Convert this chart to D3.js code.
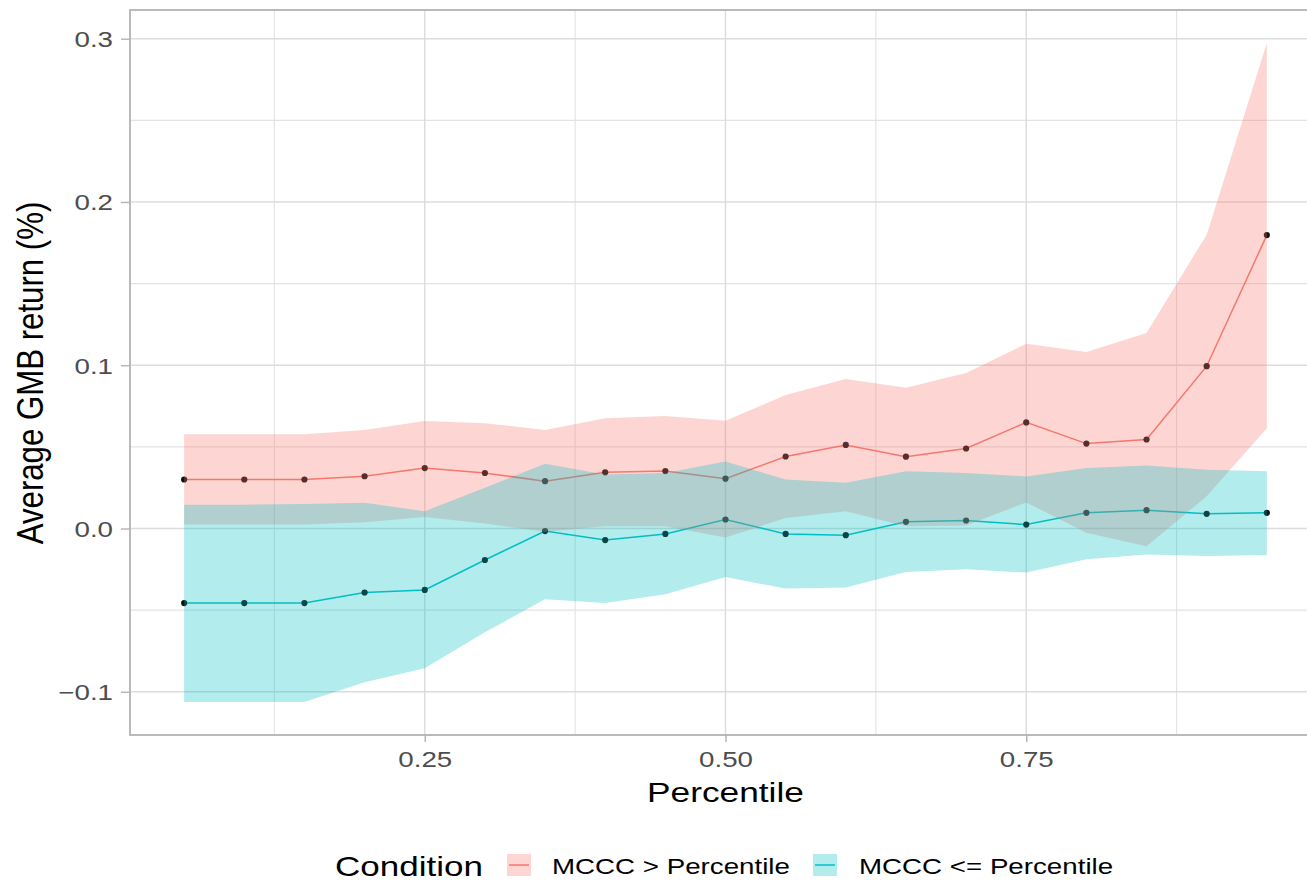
<!DOCTYPE html>
<html>
<head>
<meta charset="utf-8">
<script src="https://cdn.jsdelivr.net/npm/d3@7"></script>
<style>
  html, body { margin: 0; padding: 0; background: #ffffff; }
  svg { display: block; font-family: "Liberation Sans", Arial, Helvetica, sans-serif; }
</style>
</head>
<body>
<div id="chart"></div>
<script>
// ---- data ----
const percentiles = [0.05, 0.10, 0.15, 0.20, 0.25, 0.30, 0.35, 0.40, 0.45, 0.50,
                     0.55, 0.60, 0.65, 0.70, 0.75, 0.80, 0.85, 0.90, 0.95];

const redMean  = [0.0300, 0.0300, 0.0300, 0.0320, 0.0370, 0.0340, 0.0290, 0.0344, 0.0352, 0.0305,
                  0.0441, 0.0512, 0.0440, 0.0490, 0.0650, 0.0520, 0.0545, 0.0994, 0.1797];
const redLower = [0.0024, 0.0024, 0.0024, 0.0039, 0.0071, 0.0030, -0.0020, 0.0014, 0.0014, -0.0055,
                  0.0065, 0.0106, 0.0014, 0.0018, 0.0160, -0.0026, -0.0108, 0.0197, 0.0614];
const redUpper = [0.0577, 0.0577, 0.0577, 0.0604, 0.0659, 0.0644, 0.0604, 0.0675, 0.0689, 0.0660,
                  0.0817, 0.0915, 0.0862, 0.0953, 0.1132, 0.1081, 0.1197, 0.1800, 0.2974];

const tealMean  = [-0.0457, -0.0457, -0.0457, -0.0392, -0.0376, -0.0193, -0.0016, -0.0071, -0.0033, 0.0055,
                   -0.0033, -0.0041, 0.0041, 0.0049, 0.0024, 0.0096, 0.0112, 0.0090, 0.0096];
const tealLower = [-0.1063, -0.1063, -0.1063, -0.0941, -0.0856, -0.0636, -0.0433, -0.0457, -0.0402, -0.0297,
                   -0.0368, -0.0362, -0.0266, -0.0250, -0.0270, -0.0189, -0.0159, -0.0169, -0.0163];
const tealUpper = [0.0146, 0.0146, 0.0150, 0.0157, 0.0106, 0.0250, 0.0396, 0.0330, 0.0340, 0.0410,
                   0.0300, 0.0280, 0.0350, 0.0340, 0.0319, 0.0370, 0.0386, 0.0360, 0.0350];

const seriesNames = ["MCCC > Percentile", "MCCC <= Percentile"];
const seriesColors = ["#F8766D", "#00BFC4"];
const xTicks = [0.25, 0.50, 0.75];
const xMinor = [0.125, 0.375, 0.625, 0.875];
const yTicks = [-0.1, 0.0, 0.1, 0.2, 0.3];
const yMinor = [-0.05, 0.05, 0.15, 0.25];
const xTitle = "Percentile";
const yTitle = "Average GMB return (%)";
const legendTitle = "Condition";

// ---- layout ----
const W = 1307, H = 882;
const panel = { left: 130, top: 10, bottom: 735 };
const SX = 1.26; // horizontal text stretch of the reference

const series = [
  { name: seriesNames[0], color: seriesColors[0], mean: redMean, lower: redLower, upper: redUpper },
  { name: seriesNames[1], color: seriesColors[1], mean: tealMean, lower: tealLower, upper: tealUpper }
];

// expanded domains (5%)
const xmin = d3.min(percentiles), xmax = d3.max(percentiles);
const xpad = (xmax - xmin) * 0.05;
const allY = [].concat(redLower, redUpper, tealLower, tealUpper, redMean, tealMean);
const ymin = d3.min(allY), ymax = d3.max(allY);
const ypad = (ymax - ymin) * 0.05;

const xSpan = 1203 * (xmax - xmin + 2 * xpad);
const x = d3.scaleLinear().domain([xmin - xpad, xmax + xpad]).range([panel.left, panel.left + xSpan]);
const y = d3.scaleLinear().domain([ymin - ypad, ymax + ypad]).range([panel.bottom, panel.top]);
const panelRight = panel.left + xSpan;

const svg = d3.select("#chart").append("svg").attr("width", W).attr("height", H);

svg.append("defs").append("clipPath").attr("id", "clip")
  .append("rect").attr("x", panel.left).attr("y", panel.top)
  .attr("width", panelRight - panel.left).attr("height", panel.bottom - panel.top);

// grid
const grid = svg.append("g");
grid.selectAll(".xmin").data(xMinor).join("line")
  .attr("x1", d => x(d)).attr("x2", d => x(d)).attr("y1", panel.top).attr("y2", panel.bottom)
  .attr("stroke", "#e3e3e3").attr("stroke-width", 1.1);
grid.selectAll(".ymin").data(yMinor).join("line")
  .attr("y1", d => y(d)).attr("y2", d => y(d)).attr("x1", panel.left).attr("x2", panelRight)
  .attr("stroke", "#e3e3e3").attr("stroke-width", 1.1);
grid.selectAll(".xmaj").data(xTicks).join("line")
  .attr("x1", d => x(d)).attr("x2", d => x(d)).attr("y1", panel.top).attr("y2", panel.bottom)
  .attr("stroke", "#dcdcdc").attr("stroke-width", 1.4);
grid.selectAll(".ymaj").data(yTicks).join("line")
  .attr("y1", d => y(d)).attr("y2", d => y(d)).attr("x1", panel.left).attr("x2", panelRight)
  .attr("stroke", "#dcdcdc").attr("stroke-width", 1.4);

const plot = svg.append("g").attr("clip-path", "url(#clip)");

const lineGen = d3.line().x((d, i) => x(percentiles[i])).y(d => y(d));
const areaGen = d3.area()
  .x(d => x(d.p)).y0(d => y(d.lo)).y1(d => y(d.hi));

// lines and points (drawn below ribbons, as in reference)
series.forEach(s => {
  plot.append("path").datum(s.mean).attr("d", lineGen)
    .attr("fill", "none").attr("stroke", s.color).attr("stroke-width", 1.5);
});
series.forEach(s => {
  plot.selectAll(null).data(s.mean).join("circle")
    .attr("cx", (d, i) => x(percentiles[i])).attr("cy", d => y(d))
    .attr("r", 3.1).attr("fill", "#111111");
});
// ribbons
series.forEach(s => {
  const pts = percentiles.map((p, i) => ({ p, lo: s.lower[i], hi: s.upper[i] }));
  plot.append("path").datum(pts).attr("d", areaGen)
    .attr("fill", s.color).attr("fill-opacity", 0.3);
});

// panel border
svg.append("rect").attr("x", panel.left).attr("y", panel.top)
  .attr("width", panelRight - panel.left).attr("height", panel.bottom - panel.top)
  .attr("fill", "none").attr("stroke", "#b3b3b3").attr("stroke-width", 1.8);

// axes
const yAxis = svg.append("g").attr("transform", `translate(${panel.left},0)`)
  .call(d3.axisLeft(y).tickValues(yTicks).tickFormat(d3.format(".1f")).tickSize(9));
const xAxis = svg.append("g").attr("transform", `translate(0,${panel.bottom})`)
  .call(d3.axisBottom(x).tickValues(xTicks).tickFormat(d3.format(".2f")).tickSize(7));

[yAxis, xAxis].forEach(a => {
  a.select(".domain").remove();
  a.selectAll(".tick line").attr("stroke", "#b3b3b3").attr("stroke-width", 1.4);
  a.selectAll(".tick text").attr("fill", "#4d4d4d").attr("font-size", 22)
    .attr("font-family", "Liberation Sans, Arial, sans-serif");
});
yAxis.selectAll(".tick text")
  .attr("x", 0).attr("dy", null).attr("text-anchor", "end")
  .attr("transform", `translate(-17,8) scale(${SX},1)`);
xAxis.selectAll(".tick text")
  .attr("y", 0).attr("dy", null).attr("text-anchor", "middle")
  .attr("transform", `translate(0,32) scale(${SX},1)`);

// axis titles
svg.append("text").text(xTitle)
  .attr("text-anchor", "middle").attr("font-size", 28).attr("fill", "#000")
  .attr("transform", `translate(${x(0.5)},802) scale(${SX},1)`);
svg.append("text").text(yTitle)
  .attr("text-anchor", "middle").attr("font-size", 30).attr("fill", "#000")
  .attr("transform", `translate(43,373) rotate(-90) scale(1.04,${SX})`);

// legend
const lg = svg.append("g");
lg.append("text").text(legendTitle).attr("font-size", 27).attr("fill", "#000")
  .attr("transform", `translate(335,876) scale(${SX * 1.03},1)`);
const keyX = [507, 813];
const labX = [552, 859];
series.forEach((s, i) => {
  lg.append("rect").attr("x", keyX[i]).attr("y", 854).attr("width", 24).attr("height", 22)
    .attr("fill", s.color).attr("fill-opacity", 0.3);
  lg.append("line").attr("x1", keyX[i] + 2).attr("x2", keyX[i] + 22)
    .attr("y1", 865).attr("y2", 865).attr("stroke", s.color).attr("stroke-width", 1.5);
  lg.append("text").text(s.name).attr("font-size", 22).attr("fill", "#000")
    .attr("transform", `translate(${labX[i]},874) scale(${SX},1)`);
});
</script>
</body>
</html>
